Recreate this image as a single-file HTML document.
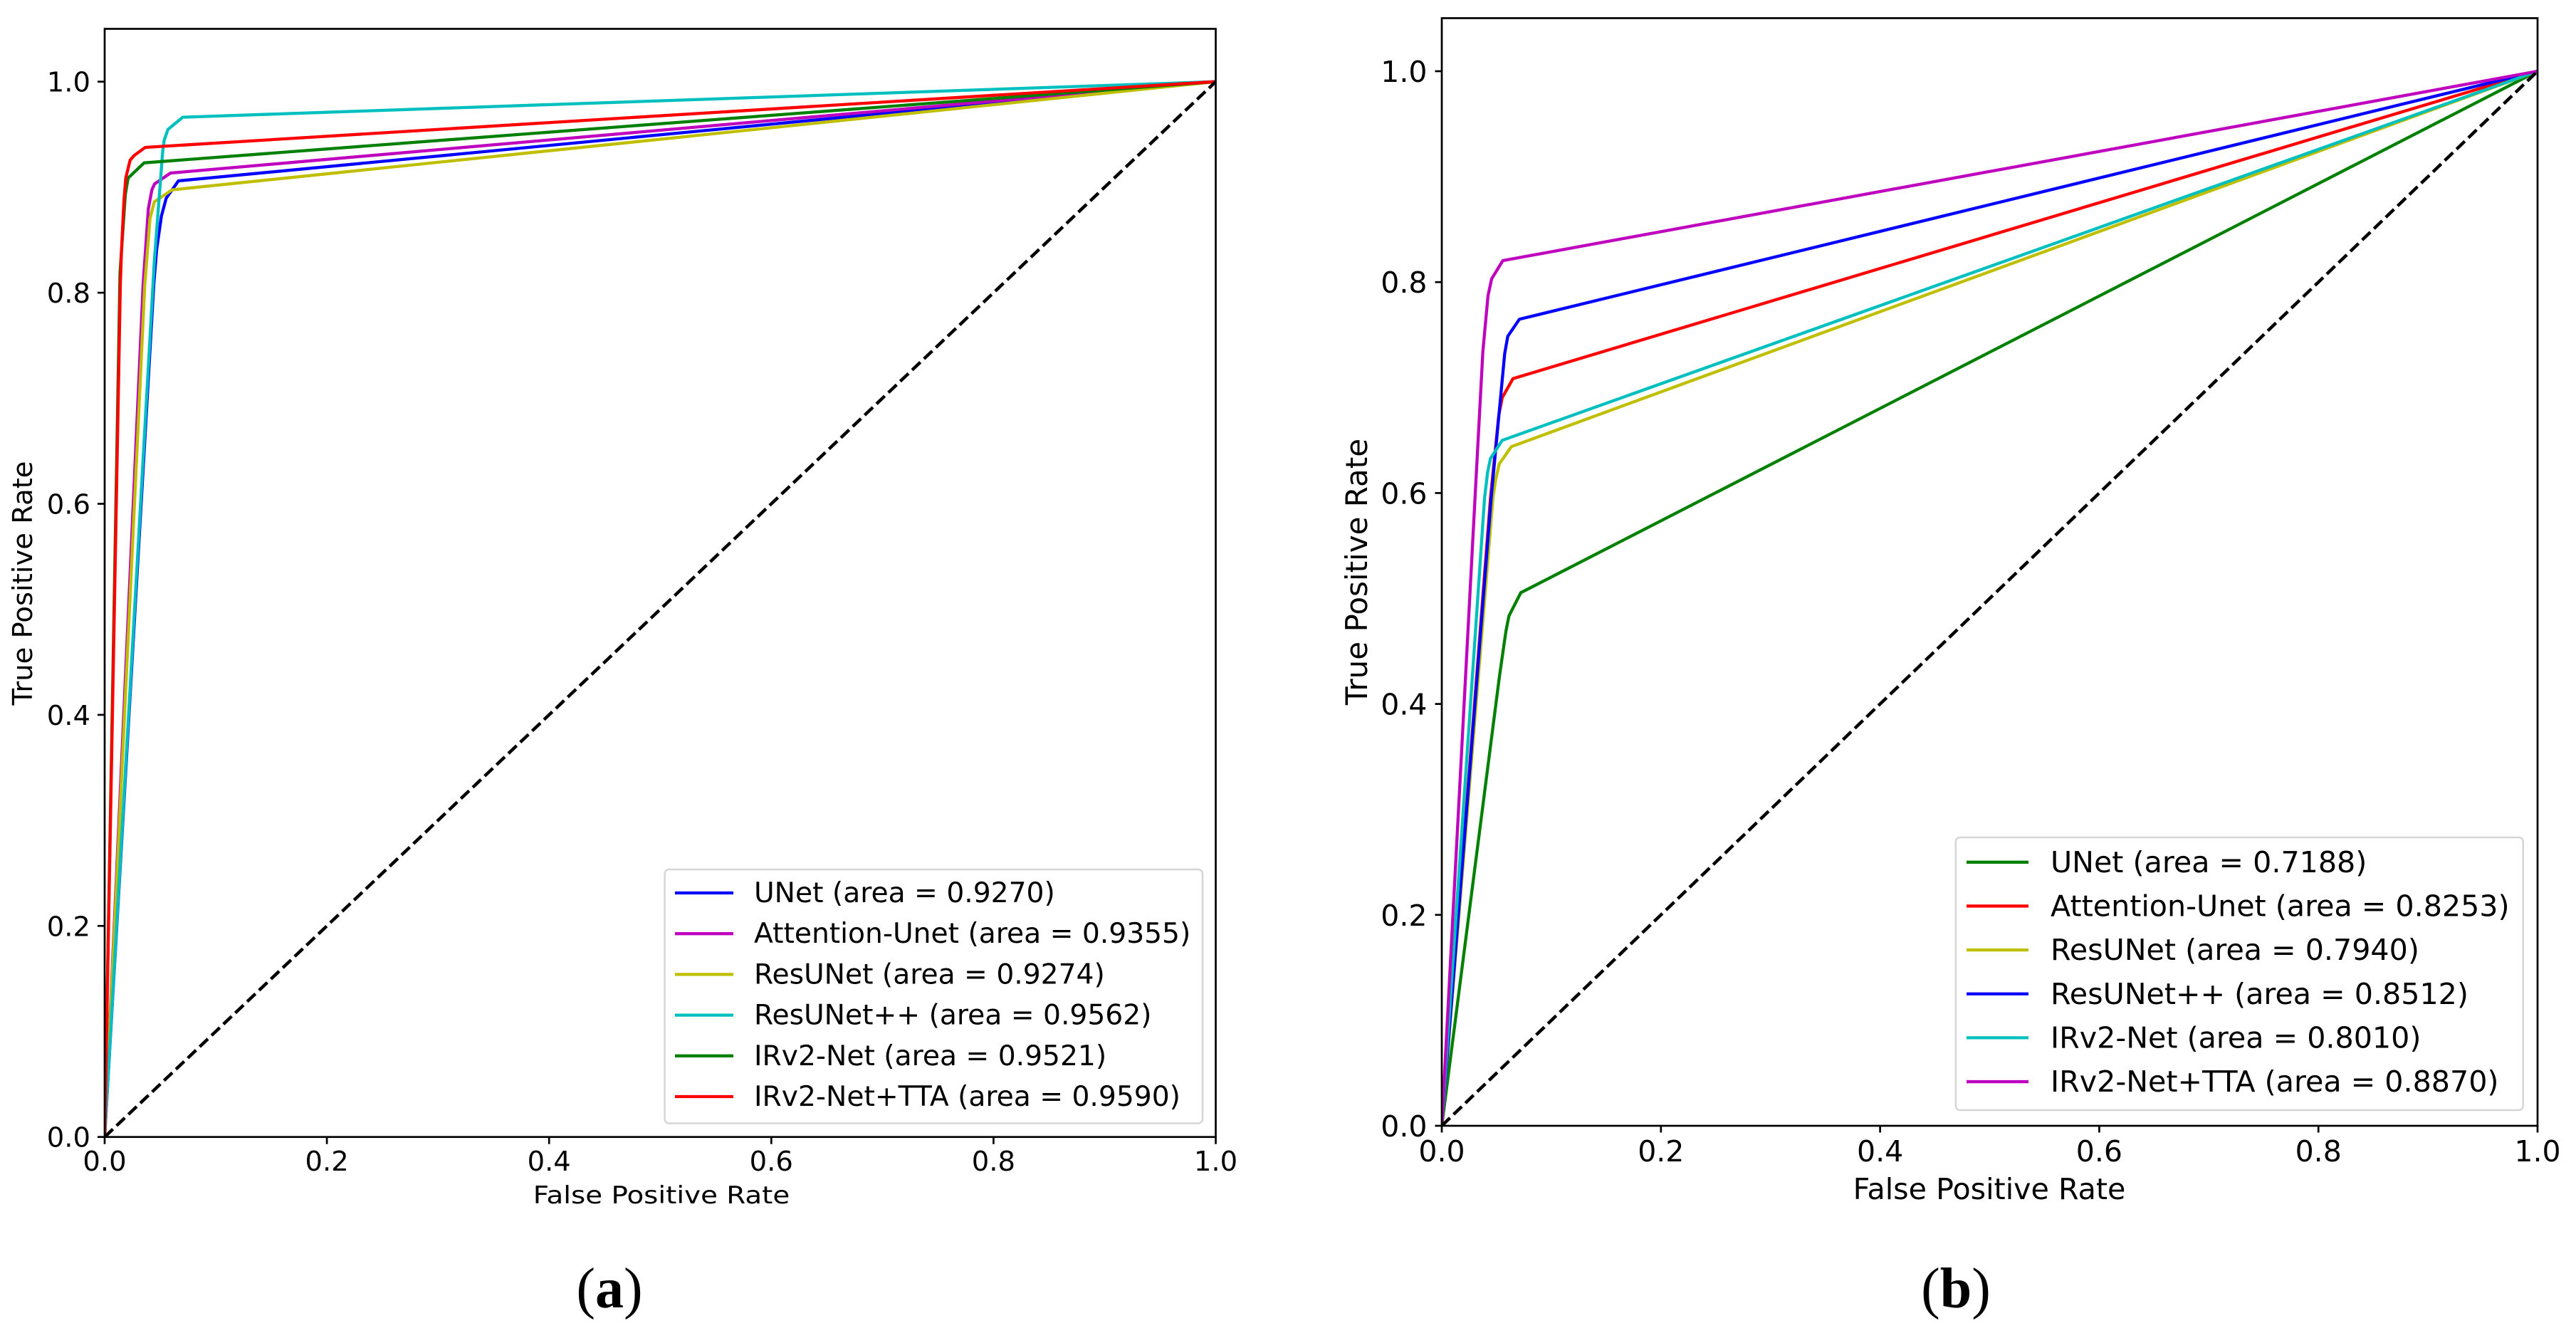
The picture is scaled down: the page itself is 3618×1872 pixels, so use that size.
<!DOCTYPE html>
<html lang="en">
<head>
<meta charset="utf-8">
<title>ROC curves (a) and (b)</title>
<style>
html,body{margin:0;padding:0;background:#fff;}
#figure{display:block;width:3618px;height:1872px;background:#fff;}
text{font-family:"DejaVu Sans","Liberation Sans",sans-serif;fill:#000;}
.caption{font-family:"Liberation Serif",serif;font-size:80px;}
</style>
</head>
<body>
<svg id="figure" xmlns="http://www.w3.org/2000/svg" width="3618" height="1872" viewBox="0 0 3618 1872">
  <g id="panel-a"></g>
  <g id="panel-b"></g>
  <text transform="translate(929,1690) scale(1,0.86)" text-anchor="middle" font-size="38.8">False Positive Rate</text>
  <text transform="translate(45,819) rotate(-90)" text-anchor="middle" font-size="38.5">True Positive Rate</text>
  <text x="2794" y="1684" text-anchor="middle" font-size="41.2">False Positive Rate</text>
  <text transform="translate(1920,803) rotate(-90)" text-anchor="middle" font-size="42">True Positive Rate</text>
  <text class="caption" x="856" y="1836" text-anchor="middle">(<tspan font-weight="bold">a</tspan>)</text>
  <text class="caption" x="2747" y="1836" text-anchor="middle">(<tspan font-weight="bold">b</tspan>)</text>
</svg>
<script>
// Shared tick labels
var tickLabels = ['0.0', '0.2', '0.4', '0.6', '0.8', '1.0'];

// Chance diagonal
var chanceFpr = [0, 1];
var chanceTpr = [0, 1];

// Panel (a) categories and series values
var panelANames = ['UNet', 'Attention-Unet', 'ResUNet', 'ResUNet++', 'IRv2-Net', 'IRv2-Net+TTA'];
var panelAAreas = ['0.9270', '0.9355', '0.9274', '0.9562', '0.9521', '0.9590'];
var panelAColors = ['#0000ff', '#bf00bf', '#bfbf00', '#00bfbf', '#008000', '#ff0000'];

var aUnetFpr = [0, 0.0442, 0.0468, 0.0511, 0.0554, 0.0664, 1];
var aUnetTpr = [0, 0.8075, 0.8412, 0.8727, 0.8896, 0.9060, 1];
var aAttentionFpr = [0, 0.0346, 0.0393, 0.0425, 0.0449, 0.0592, 1];
var aAttentionTpr = [0, 0.8075, 0.8795, 0.8975, 0.9031, 0.9134, 1];
var aResUnetFpr = [0, 0.0361, 0.0408, 0.0447, 0.0607, 1];
var aResUnetTpr = [0, 0.8075, 0.8704, 0.8862, 0.8975, 1];
var aResUnetPPFpr = [0, 0.0447, 0.0522, 0.0536, 0.0570, 0.0703, 1];
var aResUnetPPTpr = [0, 0.8300, 0.9335, 0.9447, 0.9548, 0.9663, 1];
var aIrv2Fpr = [0, 0.0138, 0.0186, 0.0211, 0.0355, 1];
var aIrv2Tpr = [0, 0.8187, 0.8930, 0.9087, 0.9231, 1];
var aIrv2TtaFpr = [0, 0.0141, 0.0152, 0.0173, 0.0190, 0.0229, 0.0265, 0.0365, 1];
var aIrv2TtaTpr = [0, 0.8075, 0.8412, 0.8864, 0.9087, 0.9256, 0.9300, 0.9377, 1];

// Panel (b) categories and series values
var panelBNames = ['UNet', 'Attention-Unet', 'ResUNet', 'ResUNet++', 'IRv2-Net', 'IRv2-Net+TTA'];
var panelBAreas = ['0.7188', '0.8253', '0.7940', '0.8512', '0.8010', '0.8870'];
var panelBColors = ['#008000', '#ff0000', '#bfbf00', '#0000ff', '#00bfbf', '#bf00bf'];

var bUnetFpr = [0, 0.0526, 0.0585, 0.0613, 0.0721, 1];
var bUnetTpr = [0, 0.4260, 0.4688, 0.4835, 0.5055, 1];
var bAttentionFpr = [0, 0.0444, 0.0520, 0.0552, 0.0650, 1];
var bAttentionTpr = [0, 0.5949, 0.6737, 0.6905, 0.7085, 1];
var bResUnetFpr = [0, 0.0466, 0.0492, 0.0524, 0.0635, 1];
var bResUnetTpr = [0, 0.5949, 0.6129, 0.6275, 0.6440, 1];
var bResUnetPPFpr = [0, 0.0450, 0.0574, 0.0602, 0.0708, 1];
var bResUnetPPTpr = [0, 0.5949, 0.7322, 0.7486, 0.7648, 1];
var bIrv2Fpr = [0, 0.0390, 0.0418, 0.0444, 0.0552, 1];
var bIrv2Tpr = [0, 0.5949, 0.6196, 0.6327, 0.6500, 1];
var bIrv2TtaFpr = [0, 0.0303, 0.0375, 0.0422, 0.0455, 0.0557, 1];
var bIrv2TtaTpr = [0, 0.5949, 0.7344, 0.7873, 0.8031, 0.8204, 1];

var SVG_NS = 'http://www.w3.org/2000/svg';

function makeEl(tag, parent) {
  var el = document.createElementNS(SVG_NS, tag);
  parent.appendChild(el);
  return el;
}

function drawPanel(cfg) {
  var root = document.getElementById(cfg.id);
  var prefix = cfg.prefix;
  function xScale(v) { return cfg.left + v * (cfg.right - cfg.left); }
  function yScale(v) { return cfg.y0 - v * (cfg.y0 - cfg.y1); }

  // clip
  var clip = makeEl('clipPath', root);
  clip.setAttribute('id', prefix + '-clip');
  var clipRect = makeEl('rect', clip);
  clipRect.setAttribute('x', cfg.left);
  clipRect.setAttribute('y', cfg.top);
  clipRect.setAttribute('width', cfg.right - cfg.left);
  clipRect.setAttribute('height', cfg.y0 - cfg.top);

  var plot = makeEl('g', root);
  
  
  plot.setAttribute('clip-path', 'url(#' + prefix + '-clip)');

  // series
  cfg.series.forEach(function (s, i) {
    var pts = s.fpr.map(function (f, k) { return xScale(f).toFixed(2) + ',' + yScale(s.tpr[k]).toFixed(2); }).join(' ');
    var line = makeEl('polyline', plot);
    
    
    line.setAttribute('points', pts);
    line.setAttribute('fill', 'none');
    line.setAttribute('stroke', cfg.colors[i]);
    line.setAttribute('stroke-width', cfg.lw);
    line.setAttribute('stroke-linejoin', 'round');
  });

  // chance line
  var chance = makeEl('polyline', plot);
  
  
  chance.setAttribute('points', chanceFpr.map(function (f, k) { return xScale(f).toFixed(2) + ',' + yScale(chanceTpr[k]).toFixed(2); }).join(' '));
  chance.setAttribute('fill', 'none');
  chance.setAttribute('stroke', '#000');
  chance.setAttribute('stroke-width', cfg.lw + 0.2);
  chance.setAttribute('stroke-dasharray', cfg.dash);

  // ticks and tick labels
  tickLabels.forEach(function (label) {
    var v = parseFloat(label);
    var xt = makeEl('line', root);
    
    
    xt.setAttribute('x1', xScale(v));
    xt.setAttribute('x2', xScale(v));
    xt.setAttribute('y1', cfg.y0);
    xt.setAttribute('y2', cfg.y0 + cfg.tickLen);
    xt.setAttribute('stroke', '#000');
    xt.setAttribute('stroke-width', cfg.axisW);
    var yt = makeEl('line', root);
    
    
    yt.setAttribute('x1', cfg.left - cfg.tickLen);
    yt.setAttribute('x2', cfg.left);
    yt.setAttribute('y1', yScale(v));
    yt.setAttribute('y2', yScale(v));
    yt.setAttribute('stroke', '#000');
    yt.setAttribute('stroke-width', cfg.axisW);
    var xl = makeEl('text', root);
    
    
    xl.setAttribute('x', xScale(v));
    xl.setAttribute('y', cfg.y0 + cfg.xTickDy);
    xl.setAttribute('text-anchor', 'middle');
    xl.setAttribute('font-size', cfg.tickFont);
    xl.textContent = label;
    var yl = makeEl('text', root);
    
    
    yl.setAttribute('x', cfg.left - cfg.yTickDx);
    yl.setAttribute('y', yScale(v) + cfg.yTickDy);
    yl.setAttribute('text-anchor', 'end');
    yl.setAttribute('font-size', cfg.tickFont);
    yl.textContent = label;
  });

  // spines
  var frame = makeEl('rect', root);
  
  
  frame.setAttribute('x', cfg.left);
  frame.setAttribute('y', cfg.top);
  frame.setAttribute('width', cfg.right - cfg.left);
  frame.setAttribute('height', cfg.y0 - cfg.top);
  frame.setAttribute('fill', 'none');
  frame.setAttribute('stroke', '#000');
  frame.setAttribute('stroke-width', cfg.axisW);

  // legend
  var legend = makeEl('g', root);
  
  
  var box = makeEl('rect', legend);
  
  
  box.setAttribute('x', cfg.legX0);
  box.setAttribute('y', cfg.legY0);
  box.setAttribute('width', cfg.legX1 - cfg.legX0);
  box.setAttribute('height', cfg.legY1 - cfg.legY0);
  box.setAttribute('rx', 6);
  box.setAttribute('fill', '#fff');
  box.setAttribute('stroke', '#d6d6d6');
  box.setAttribute('stroke-width', 2.5);
  cfg.names.forEach(function (name, i) {
    var rowY = cfg.rowY0 + i * cfg.rowStep;
    var h = makeEl('line', legend);
    
    
    h.setAttribute('x1', cfg.handleX0);
    h.setAttribute('x2', cfg.handleX1);
    h.setAttribute('y1', rowY);
    h.setAttribute('y2', rowY);
    h.setAttribute('stroke', cfg.colors[i]);
    h.setAttribute('stroke-width', cfg.lw);
    var t = makeEl('text', legend);
    
    
    t.setAttribute('x', cfg.textX);
    t.setAttribute('y', rowY + cfg.textDy);
    t.setAttribute('font-size', cfg.legFont);
    t.textContent = name + ' (area = ' + cfg.areas[i] + ')';
  });
}

drawPanel({
  id: 'panel-a', prefix: 'panel-a',
  left: 147, right: 1707.5, top: 40.5, y0: 1596.7, y1: 114.7,
  names: panelANames, areas: panelAAreas, colors: panelAColors,
  series: [
    { fpr: aUnetFpr, tpr: aUnetTpr },
    { fpr: aAttentionFpr, tpr: aAttentionTpr },
    { fpr: aResUnetFpr, tpr: aResUnetTpr },
    { fpr: aResUnetPPFpr, tpr: aResUnetPPTpr },
    { fpr: aIrv2Fpr, tpr: aIrv2Tpr },
    { fpr: aIrv2TtaFpr, tpr: aIrv2TtaTpr }
  ],
  lw: 4.3, axisW: 2.7, dash: '16 7', tickLen: 10, tickFont: 38.5,
  xTickDy: 47.5, yTickDx: 20, yTickDy: 14,
  legX0: 933.6, legX1: 1689, legY0: 1221, legY1: 1577.5,
  rowY0: 1254, rowStep: 57.2, handleX0: 948, handleX1: 1030, textX: 1059,
  textDy: 13, legFont: 39.2
});

drawPanel({
  id: 'panel-b', prefix: 'panel-b',
  left: 2025, right: 3564, top: 25.5, y0: 1581, y1: 100,
  names: panelBNames, areas: panelBAreas, colors: panelBColors,
  series: [
    { fpr: bUnetFpr, tpr: bUnetTpr },
    { fpr: bAttentionFpr, tpr: bAttentionTpr },
    { fpr: bResUnetFpr, tpr: bResUnetTpr },
    { fpr: bResUnetPPFpr, tpr: bResUnetPPTpr },
    { fpr: bIrv2Fpr, tpr: bIrv2Tpr },
    { fpr: bIrv2TtaFpr, tpr: bIrv2TtaTpr }
  ],
  lw: 4.3, axisW: 2.7, dash: '16 7', tickLen: 9.5, tickFont: 41,
  xTickDy: 50, yTickDx: 20.5, yTickDy: 15,
  legX0: 2746.8, legX1: 3543.7, legY0: 1176, legY1: 1559,
  rowY0: 1210.8, rowStep: 61.65, handleX0: 2762, handleX1: 2849, textX: 2880,
  textDy: 14, legFont: 41.2
});
</script>
</body>
</html>
